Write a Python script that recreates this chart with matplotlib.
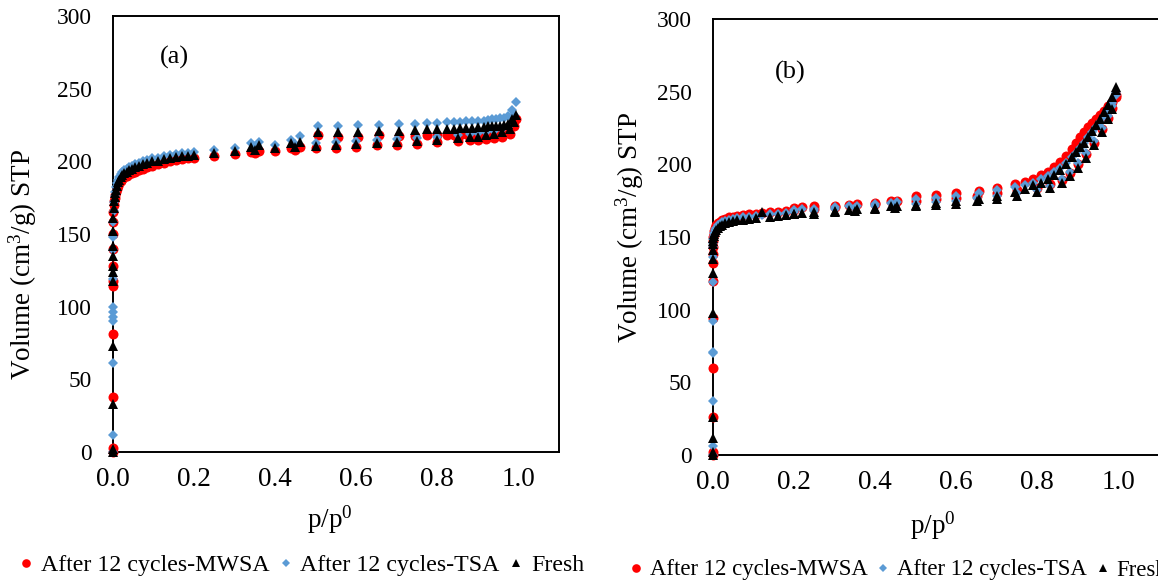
"""Nitrogen isotherms of the two sorbents -- fresh vs after 12 cycles (MWSA / TSA)."""

import matplotlib

matplotlib.use("Agg")
import matplotlib.pyplot as plt
from matplotlib.lines import Line2D
from matplotlib.ticker import FormatStrFormatter

plt.rcParams["font.family"] = ["Liberation Serif", "DejaVu Serif"]
plt.rcParams["mathtext.fontset"] = "custom"
plt.rcParams["mathtext.rm"] = "Liberation Serif"
plt.rcParams["mathtext.it"] = "Liberation Serif:italic"

# ---- data (p/p0, cm3/g STP) -------------------------------------------------
LABELS = ["After 12 cycles-MWSA", "After 12 cycles-TSA", "Fresh"]

# panel (a): adsorption branch
A_P_ADS = [0.0, 0.0, 0.0, 0.0, 0.0, 0.0, 0.0, 0.0, 0.0,
           0.001, 0.001, 0.002, 0.003, 0.004, 0.005, 0.007, 0.009, 0.012, 0.015,
           0.019, 0.023, 0.028, 0.034, 0.040, 0.047, 0.055, 0.064, 0.074, 0.085,
           0.097, 0.110, 0.125, 0.140, 0.155, 0.170, 0.185, 0.200,
           0.25, 0.30, 0.35, 0.40, 0.45, 0.50, 0.55, 0.60, 0.65, 0.70,
           0.75, 0.80, 0.85, 0.88, 0.90, 0.92, 0.94, 0.96, 0.98, 0.99]
A_MWSA_ADS = [0, 3, 38, 81, 114, 118, 128, 140, 150,
              158, 165, 170, 173, 175, 177, 179, 181, 183, 185,
              186.5, 188, 189, 190, 191, 192, 193, 194, 195, 196,
              197, 198, 199, 200, 201, 201.5, 202, 202.5,
              204, 205, 206, 207, 208, 209, 209.5, 210, 211, 211.5,
              212, 213, 214, 214.5, 215, 215.5, 216, 217, 219, 224]
A_TSA_ADS = [0, 12, 61, 90, 93, 96, 100, 119, 139,
             148, 158, 166, 172, 176, 179, 182, 185, 187.5, 189.5,
             191, 192.5, 194, 195, 196, 197, 198, 199, 200, 201,
             202, 202.5, 203.5, 204.5, 205, 205.5, 206, 206.5,
             208, 209, 210, 211, 212, 212.5, 213, 214, 214.5, 215.5,
             216, 217, 218, 219, 219.5, 220, 221, 222, 225, 232]
A_FRESH_ADS = [0, 2, 33, 73, 118, 124, 128, 135, 142,
               152, 161, 168, 172.5, 175.5, 178, 180.5, 183, 185.5, 187.5,
               189, 190.5, 192, 193, 194, 195, 196, 197, 198, 199,
               200, 200.5, 201.5, 202.5, 203, 203.5, 204, 204.5,
               206, 207, 208, 209, 210, 210.5, 211, 212, 212.5, 213.5,
               214, 215, 216, 216.5, 217, 218, 219, 220, 222, 227]

# panel (a): desorption branch
A_P_DES = [0.995, 0.985, 0.975, 0.965, 0.955, 0.945, 0.935, 0.925, 0.915, 0.90,
           0.885, 0.87, 0.855, 0.84, 0.825, 0.80, 0.775, 0.745, 0.705, 0.655,
           0.605, 0.555, 0.505, 0.46, 0.44, 0.36, 0.34]
A_MWSA_DES = [229, 224, 221, 220, 219.5, 219.5, 219, 219, 219, 218.5,
              218.5, 218.5, 218, 218, 218, 218, 218, 217.5, 217.5, 218,
              217, 217, 218, 210, 209, 207, 206.5]
A_TSA_DES = [241, 235, 231, 230, 229.5, 229, 229, 228.5, 228, 228,
             227.5, 227.5, 227, 227, 227, 226.5, 226.5, 226, 225.5, 225,
             225, 224.5, 224, 217.5, 215, 213.5, 212.5]
A_FRESH_DES = [232, 229, 226, 225, 224.5, 224.5, 224, 224, 223.5, 223.5,
               223, 223, 223, 222.5, 222.5, 222, 222, 221.5, 221, 221,
               220.5, 220.5, 220.5, 213.5, 212.5, 211, 210]

# panel (b): adsorption branch
B_P_ADS = [0.0, 0.0, 0.0, 0.0, 0.0, 0.0, 0.0, 0.0, 0.0,
           0.001, 0.001, 0.002, 0.003, 0.005, 0.008, 0.012, 0.017, 0.023, 0.030,
           0.040, 0.050, 0.060, 0.075, 0.090, 0.105, 0.120, 0.140, 0.160, 0.180,
           0.200, 0.25, 0.30, 0.35, 0.40, 0.45, 0.50, 0.55, 0.60, 0.65,
           0.70, 0.75, 0.80, 0.83, 0.86, 0.88, 0.90, 0.92, 0.94, 0.96,
           0.975, 0.985, 0.995]
B_MWSA_ADS = [0, 2, 26, 60, 94, 120, 132, 138, 143,
              147, 150, 152, 154, 156, 158, 159.5, 160.5, 161.5, 162.5,
              163.5, 164, 164.5, 165, 165.5, 166, 166.5, 167, 167.5, 168,
              168.5, 169.5, 170.5, 171.5, 172.5, 173.5, 175, 176, 177, 178.5,
              180, 182, 184, 186.5, 189, 194, 200, 207, 215, 224,
              232, 239, 246]
B_TSA_ADS = [0, 6, 37, 70, 71, 92, 119, 136, 143,
             146, 148.5, 150.5, 152.5, 154.5, 156.5, 158, 159, 160, 161,
             162, 162.5, 163, 163.5, 164, 164.5, 165, 165.5, 166, 166.5,
             167, 168, 169, 170, 171, 172, 173, 174, 175, 176.5,
             178, 180, 182.5, 185, 190, 195, 201, 208, 216, 225,
             233, 240, 248]
B_FRESH_ADS = [0, 2, 11.5, 26, 97.5, 125, 135, 141, 145,
               147, 149, 150.5, 152, 153.5, 155, 156.5, 157.5, 158.5, 159.5,
               160.5, 161, 161.5, 162, 162.5, 163, 167, 164, 164.5, 165,
               165.5, 166, 167, 168, 169, 170, 171, 172, 173, 174.5,
               176, 178, 181, 183.5, 187, 192, 197.5, 204.5, 213, 222.5,
               231, 238, 251]

# panel (b): desorption branch
B_P_DES = [0.995, 0.985, 0.975, 0.965, 0.955, 0.945, 0.935, 0.925, 0.915, 0.905,
           0.895, 0.885, 0.87, 0.855, 0.84, 0.825, 0.81, 0.79, 0.77, 0.745,
           0.70, 0.655, 0.60, 0.55, 0.50, 0.455, 0.44, 0.40, 0.355, 0.335,
           0.30, 0.25, 0.22, 0.20]
B_MWSA_DES = [248, 243, 240, 237, 234, 231, 228.5, 226, 222.5, 218.5,
              214.5, 210.5, 206, 201.5, 198, 195, 192.5, 190, 188, 186.5,
              184, 181.5, 180.5, 179, 178, 175, 174.5, 173.5, 172.5, 172,
              171.5, 171, 170.5, 170]
B_TSA_DES = [249, 242, 237, 233, 229, 225.5, 222, 218.5, 215, 211.5,
             208, 205, 201, 197.5, 194.5, 192, 190, 187.5, 186, 184.5,
             182, 180, 178.5, 177, 176, 174, 173.5, 172.5, 171.5, 171,
             170.5, 169.5, 169, 168.5]
B_FRESH_DES = [253, 246, 241, 236, 231, 227, 223, 219, 215, 212,
               208.5, 205, 200.5, 196, 193, 190, 187.5, 185.5, 183, 181,
               178, 176, 174.5, 173.5, 172, 171.5, 171, 170, 169, 168.5,
               168, 167, 166.5, 166]

# ---- style -------------------------------------------------------------------
_COLORS = ["#ff0000", "#5b9bd5", "#000000"]
_MARKERS = ["o", "D", "^"]
_SIZES = [7.2, 4.8, 7.2]
_LEGEND_SIZES = [6.2, 3.8, 5.8]


def _draw_panel(ax, p_ads, ads, p_des, des, tag, tag_xy, ylab_xy, xlab_xy):
    for k in range(3):
        for p, v in ((p_ads, ads[k]), (p_des, des[k])):
            ax.plot(p, v, ls="none", marker=_MARKERS[k], ms=_SIZES[k],
                    color=_COLORS[k], mec=_COLORS[k], mew=0, clip_on=False,
                    zorder=3 + k)
    ax.set_xlim(0, 1.1)
    ax.set_ylim(0, 300)
    ax.set_xticks([0.0, 0.2, 0.4, 0.6, 0.8, 1.0])
    ax.set_yticks(range(0, 301, 50))
    ax.xaxis.set_major_formatter(FormatStrFormatter("%.1f"))
    ax.tick_params(axis="x", length=0, pad=10.5, labelsize=19.5)
    ax.tick_params(axis="y", length=0, pad=15, labelsize=16.8)
    for side in ax.spines.values():
        side.set_linewidth(1.4)
        side.set_color("black")
    ax.set_ylabel("Volume (cm$^{3}$/g) STP", fontsize=19.5, va="center")
    ax.yaxis.set_label_coords(*ylab_xy)
    ax.set_xlabel("p/p$^{0}$", fontsize=19.5)
    ax.xaxis.set_label_coords(*xlab_xy)
    ax.text(tag_xy[0], tag_xy[1], tag, transform=ax.transAxes, fontsize=19,
            ha="center", va="center")


def _legend(fig, x, y, fontsize):
    handles = [
        Line2D([], [], ls="none", marker=_MARKERS[k], ms=_LEGEND_SIZES[k],
               color=_COLORS[k], mew=0, label=LABELS[k])
        for k in range(3)
    ]
    fig.legend(handles=handles, loc="center left", bbox_to_anchor=(x, y),
               ncol=3, frameon=False, fontsize=fontsize, handlelength=0.7,
               handletextpad=0.25, columnspacing=0.35, borderpad=0,
               borderaxespad=0)


W, H = 1158, 580
fig = plt.figure(figsize=(W / 100, H / 100), dpi=100)
ax_a = fig.add_axes([113 / W, (H - 452) / H, 446 / W, 436 / H])
ax_b = fig.add_axes([713 / W, (H - 455) / H, 446 / W, 436 / H])

_draw_panel(ax_a, A_P_ADS, [A_MWSA_ADS, A_TSA_ADS, A_FRESH_ADS],
            A_P_DES, [A_MWSA_DES, A_TSA_DES, A_FRESH_DES],
            "(a)", (0.137, 0.906), (-0.202, 0.431), (0.487, -0.118))
_draw_panel(ax_b, B_P_ADS, [B_MWSA_ADS, B_TSA_ADS, B_FRESH_ADS],
            B_P_DES, [B_MWSA_DES, B_TSA_DES, B_FRESH_DES],
            "(b)", (0.173, 0.878), (-0.186, 0.523), (0.493, -0.125))

_legend(fig, 18 / W, 1 - 565 / H, 17.2)
_legend(fig, 628 / W, 1 - 570 / H, 16.4)

fig.savefig("out.png", dpi=100)
plt.close(fig)
